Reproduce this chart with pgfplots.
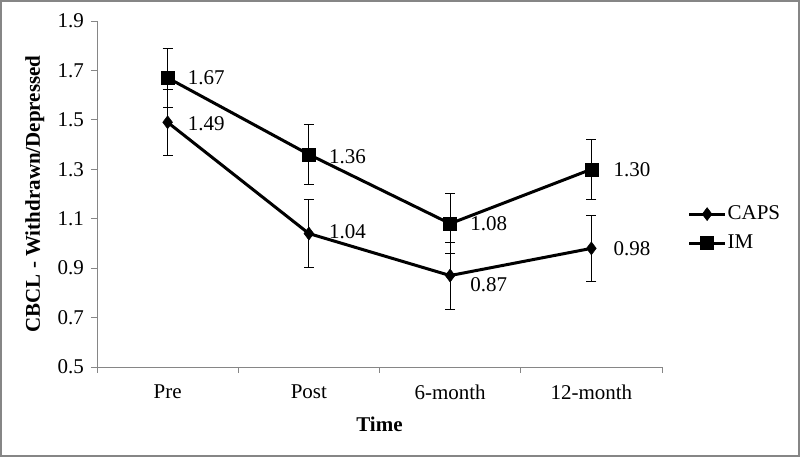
\documentclass[border=0pt]{standalone}
\usepackage{fontspec}
\setmainfont{Liberation Serif}
\usepackage{pgfplots}
\pgfplotsset{compat=1.18}
\definecolor{axgray}{RGB}{134,134,134}
\begin{document}
\fontsize{21}{24}\selectfont
\begin{tikzpicture}
\useasboundingbox (-97pt,-90pt) rectangle (703pt,367pt);
\draw[axgray, line width=1.2pt] (-96pt,-89pt) rectangle (702pt,366pt);
\begin{axis}[
  at={(0pt,0pt)}, anchor=south west,
  scale only axis, width=565pt, height=346pt,
  xmin=-0.5, xmax=3.5, ymin=0.5, ymax=1.9,
  axis x line*=bottom, axis y line*=left,
  axis line style={axgray, line width=0.8pt},
  xtick={0,1,2,3},
  xticklabels={Pre,Post,6-month,12-month},
  minor xtick={-0.5,0.5,1.5,2.5,3.5},
  ytick={0.5,0.7,0.9,1.1,1.3,1.5,1.7,1.9},
  tick align=outside,
  major x tick style={draw=none},
  minor x tick style={axgray, line width=0.8pt},
  minor tick length=6pt,
  major tick length=6pt,
  y tick style={axgray, line width=0.8pt},
  yticklabel style={/pgf/number format/fixed, /pgf/number format/fixed zerofill, /pgf/number format/precision=1},
  /pgf/number format/assume math mode=true,
  tick label style={font=\fontsize{21}{24}\selectfont},
  xticklabel style={yshift=-5pt},
  xlabel={\textbf{Time}},
  ylabel={\textbf{CBCL - Withdrawn/Depressed}},
  label style={font=\fontsize{21}{24}\selectfont},
  xlabel style={yshift=-3pt},
  ylabel style={yshift=-1pt},
  legend style={draw=none, fill=none, at={(rel axis cs:1.045,0.40)}, anchor=west,
    font=\fontsize{21}{24}\selectfont, row sep=8pt, inner sep=0pt,
    nodes={inner xsep=1pt}},
  legend cell align=left,
  legend image code/.code={\draw[mark repeat=2, mark phase=2, #1] plot coordinates {(0pt,0pt) (18pt,0pt) (36pt,0pt)};},
  clip=false,
]
\addplot[black, line width=3pt, mark=diamond*, mark size=6.5pt, mark options={solid, line width=0.5pt},
  error bars/.cd, y dir=both, y explicit,
  error bar style={black, line width=0.8pt},
  error mark options={rotate=90, mark size=5pt, black, line width=0.8pt}]
  coordinates {
  (0,1.49) +- (0,0.135)
  (1,1.04) +- (0,0.137)
  (2,0.87) +- (0,0.135)
  (3,0.98) +- (0,0.135)
  };
\addlegendentry{CAPS}
\addplot[black, line width=3pt, mark=square*, mark size=6.5pt, mark options={solid, line width=0.5pt},
  error bars/.cd, y dir=both, y explicit,
  error bar style={black, line width=0.8pt},
  error mark options={rotate=90, mark size=5pt, black, line width=0.8pt}]
  coordinates {
  (0,1.67) +- (0,0.121)
  (1,1.36) +- (0,0.122)
  (2,1.08) +- (0,0.122)
  (3,1.30) +- (0,0.122)
  };
\addlegendentry{IM}
\begin{scope}[every node/.style={anchor=west, font=\fontsize{21}{24}\selectfont, xshift=13pt}]
\node at (axis cs:0,1.67) {1.67};
\node at (axis cs:0,1.49) [yshift=-1pt] {1.49};
\node at (axis cs:1,1.36) [yshift=-2pt] {1.36};
\node at (axis cs:1,1.04) [yshift=2pt] {1.04};
\node at (axis cs:2,1.08) {1.08};
\node at (axis cs:2,0.87) [yshift=-9pt] {0.87};
\node at (axis cs:3,1.30) [xshift=2pt] {1.30};
\node at (axis cs:3,0.98) [xshift=2pt] {0.98};
\end{scope}
\end{axis}
\end{tikzpicture}
\end{document}
